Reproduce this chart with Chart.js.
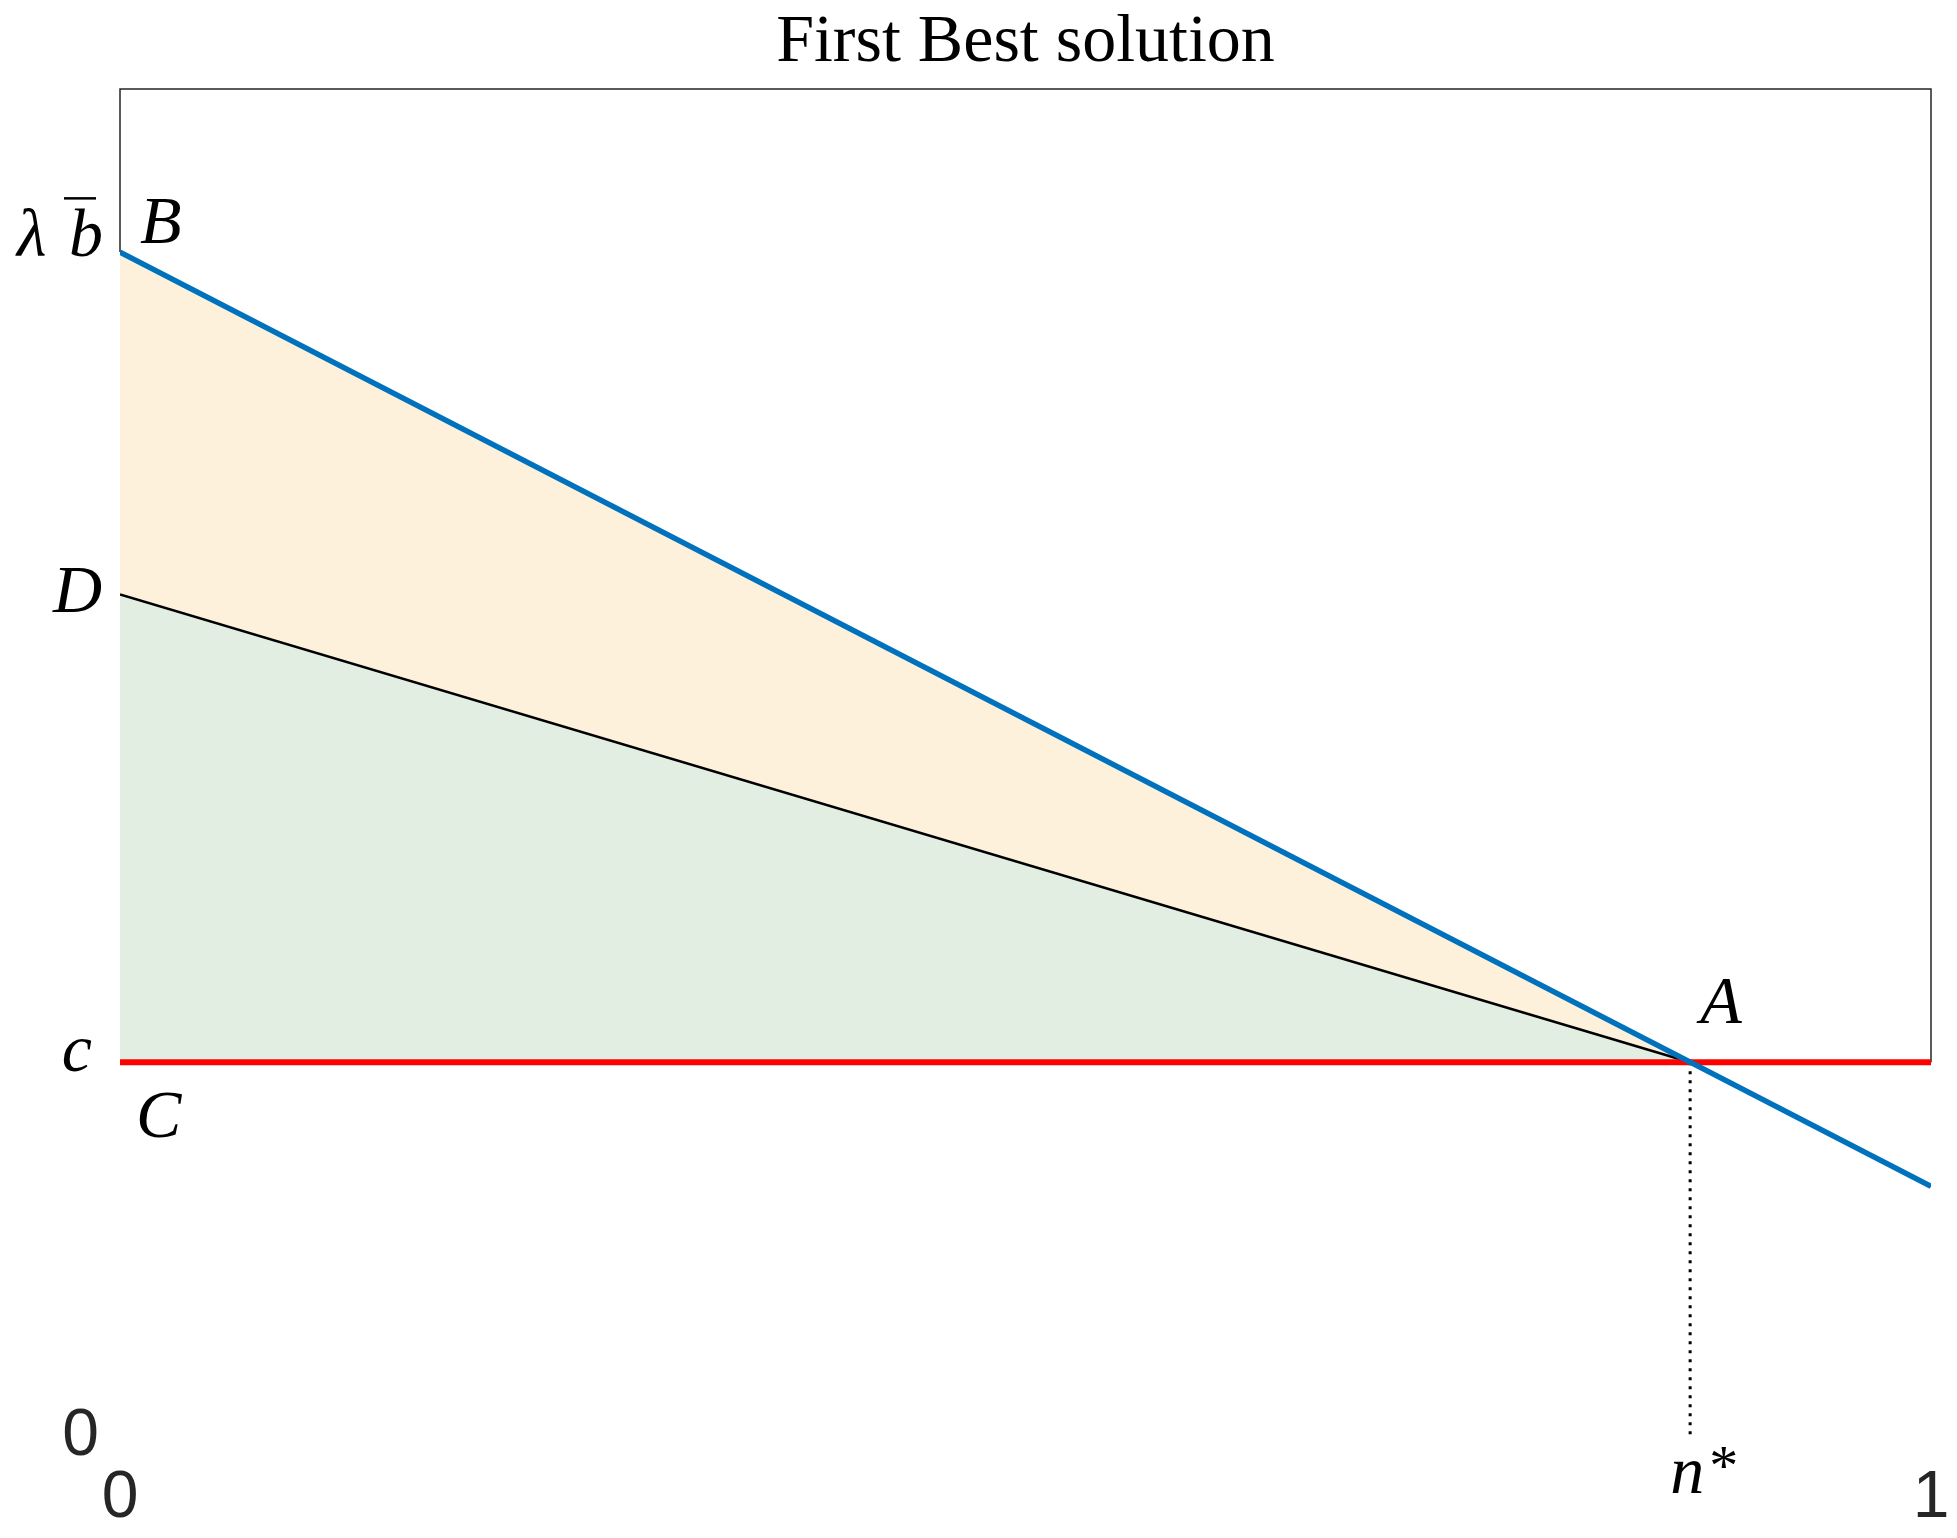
<!DOCTYPE html>
<html>
<head>
<meta charset="utf-8">
<title>First Best solution</title>
<script src="https://cdn.jsdelivr.net/npm/chart.js@4.4.1/dist/chart.umd.min.js"></script>
<style>
  html, body { margin: 0; padding: 0; background: #fff; }
  #wrap { width: 1957px; height: 1538px; }
</style>
</head>
<body>
<div id="wrap"><canvas id="fb"></canvas></div>
<script>
// ─── data (x: 0..1, y: 0..1) ────────────────────────────────────────────────
const X_TICKS  = [0, 1];
const Y_TICKS  = [0];
const N_STAR   = 0.867;
const C_LEVEL  = 0.278;

const blueX    = [0, 1];            const blueY    = [0.879, 0.186];   // B -> beyond A
const blackX   = [0, N_STAR];       const blackY   = [0.625, C_LEVEL]; // D -> A
const redX     = [0, 1];            const redY     = [C_LEVEL, C_LEVEL];
const upperX   = [0, N_STAR];       const upperY   = [0.879, C_LEVEL]; // B -> A (fill edge)
const dropX    = [N_STAR, N_STAR];  const dropY    = [C_LEVEL, 0];
const boxTopY  = 1;

// point labels: text, anchor (x,y) in data units
const LABELS = [
  { t: 'B', x: 0,      y: 0.879 },
  { t: 'D', x: 0,      y: 0.625 },
  { t: 'c', x: 0,      y: C_LEVEL },
  { t: 'C', x: 0,      y: C_LEVEL },
  { t: 'A', x: N_STAR, y: C_LEVEL },
];

const COL = {
  blue:   '#0072BD',
  red:    '#FF0000',
  black:  '#000000',
  axis:   '#262626',
  orange: '#FDF1DC',
  green:  '#E3EEE3',
};
const MATH = 'italic 68px "Liberation Serif", "DejaVu Serif", serif';

const pts = (xs, ys) => xs.map((x, i) => ({ x, y: ys[i] }));

// axes box: top edge plus sides down to the c level (as in the figure)
const boxPlugin = {
  id: 'box',
  beforeDatasetsDraw(chart) {
    const { ctx, scales: { x, y } } = chart;
    const x0 = x.getPixelForValue(0), x1 = x.getPixelForValue(1);
    const yt = y.getPixelForValue(boxTopY), yc = y.getPixelForValue(C_LEVEL);
    const yb = y.getPixelForValue(blueY[0]);
    ctx.save();
    ctx.strokeStyle = COL.axis; ctx.lineWidth = 1.5;
    ctx.beginPath();
    ctx.moveTo(x0, yb); ctx.lineTo(x0, yt); ctx.lineTo(x1, yt); ctx.lineTo(x1, yc);
    ctx.stroke();
    ctx.restore();
  },
};

// math-style annotations
const labelPlugin = {
  id: 'mathLabels',
  afterDatasetsDraw(chart) {
    const { ctx, scales: { x, y } } = chart;
    const px = v => x.getPixelForValue(v), py = v => y.getPixelForValue(v);
    ctx.save();
    ctx.fillStyle = COL.black;
    ctx.font = MATH;
    ctx.textBaseline = 'alphabetic';

    // λ b̄ on the y axis
    const yB = py(blueY[0]);
    ctx.textAlign = 'left';
    ctx.fillText('λ', 17, yB + 4);
    ctx.fillText('b', 69, yB + 4);
    ctx.fillRect(64, yB - 55, 32, 2.5);

    const off = {
      B: [20, -9, 'left'], D: [-18, 17, 'right'], c: [-28, 9, 'right'],
      C: [16, 75, 'left'], A: [10, -39, 'left'],
    };
    LABELS.forEach(l => {
      const [dx, dy, al] = off[l.t];
      ctx.textAlign = al;
      ctx.fillText(l.t, px(l.x) + dx, py(l.y) + dy);
    });

    // n* under the drop line
    ctx.textAlign = 'left';
    ctx.fillText('n', px(N_STAR) - 20, py(0) + 56);
    ctx.font = '58px "Liberation Serif", serif';
    ctx.fillText('*', px(N_STAR) + 19, py(0) + 48);
    ctx.restore();
  },
};

new Chart(document.getElementById('fb'), {
  type: 'line',
  data: {
    datasets: [
      { label: 'upper', data: pts(upperX, upperY), borderWidth: 0, pointRadius: 0,
        backgroundColor: COL.orange, fill: 1, order: 5 },
      { label: 'D-A', data: pts(blackX, blackY), borderColor: COL.black, borderWidth: 2.5,
        pointRadius: 0, backgroundColor: COL.green, fill: { value: C_LEVEL }, order: 3 },
      { label: 'c', data: pts(redX, redY), borderColor: COL.red, borderWidth: 6,
        pointRadius: 0, fill: false, order: 1 },
      { label: 'B', data: pts(blueX, blueY), borderColor: COL.blue, borderWidth: 5.5,
        pointRadius: 0, fill: false, order: 0 },
      { label: 'n*', data: pts(dropX, dropY), borderColor: COL.black, borderWidth: 3,
        borderDash: [3, 6], pointRadius: 0, fill: false, order: 2 },
    ],
  },
  options: {
    responsive: true, maintainAspectRatio: false, animation: false,
    events: [],
    layout: { padding: { left: 0, right: 26, top: 0, bottom: 0 } },
    plugins: {
      legend: { display: false },
      tooltip: { enabled: false },
      title: {
        display: true, text: 'First Best solution', fullSize: false,
        color: COL.black, padding: { top: 2, bottom: 5.4 },
        font: { family: '"Liberation Serif", "Times New Roman", serif', size: 68, weight: 'normal' },
      },
    },
    scales: {
      x: {
        type: 'linear', min: 0, max: 1,
        grid: { display: false }, border: { display: false },
        afterBuildTicks: s => { s.ticks = X_TICKS.map(v => ({ value: v })); },
        afterFit: s => { s.height = 101; s.paddingLeft = 0; s.paddingRight = 0; },
        ticks: { padding: 14, color: COL.axis, maxRotation: 0,
          font: { family: '"Liberation Sans", Arial, sans-serif', size: 66 } },
      },
      y: {
        type: 'linear', min: 0, max: 1,
        grid: { display: false }, border: { display: false },
        afterBuildTicks: s => { s.ticks = Y_TICKS.map(v => ({ value: v })); },
        afterFit: s => { s.width = 120; s.paddingTop = 0; s.paddingBottom = 0; },
        ticks: { padding: 13, color: COL.axis,
          font: { family: '"Liberation Sans", Arial, sans-serif', size: 66 } },
      },
    },
  },
  plugins: [boxPlugin, labelPlugin],
});
</script>
</body>
</html>
